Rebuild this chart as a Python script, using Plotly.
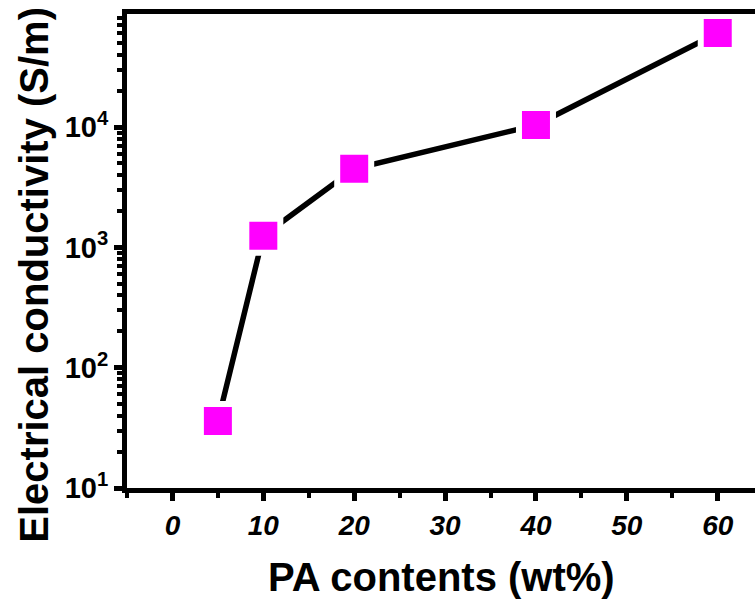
import plotly.graph_objects as go

pa_content = [5, 10, 20, 40, 60]
conductivity = [36, 1250, 4500, 10400, 60500]

x_ticks = [0, 10, 20, 30, 40, 50, 60]
y_tick_vals = [10, 100, 1000, 10000]
y_tick_text = ["10<sup>1</sup>", "10<sup>2</sup>", "10<sup>3</sup>", "10<sup>4</sup>"]

FONT = "Liberation Sans, Arial, sans-serif"

minor_y = [m * 10 ** e for e in range(1, 5) for m in range(2, 10)]

fig = go.Figure()
fig.add_trace(go.Scatter(
    x=pa_content, y=conductivity,
    mode="lines+markers",
    line=dict(color="black", width=5.5),
    marker=dict(symbol="square", size=34, color="#ff00ff",
                line=dict(color="white", width=6)),
    showlegend=False,
))

fig.update_layout(
    width=755, height=599,
    margin=dict(l=127, r=0, t=14, b=111),
    paper_bgcolor="white", plot_bgcolor="white",
    font=dict(family=FONT, color="black"),
    xaxis=dict(
        range=[-5, 64.1],
        tickvals=x_ticks,
        ticktext=[f"<b><i>{v}</i></b>" for v in x_ticks],
        tickfont=dict(size=28, family=FONT),
        ticks="outside", ticklen=8, tickwidth=5, tickcolor="black",
        minor=dict(ticks="outside", ticklen=5, tickwidth=4, tickcolor="black", dtick=5, tick0=-5),
        showline=True, linewidth=5, linecolor="black", mirror=True,
        showgrid=False, zeroline=False,
    ),
    yaxis=dict(
        type="log",
        range=[1, 4.94],
        tickvals=y_tick_vals,
        ticktext=[f"<b>{t}</b>" for t in y_tick_text],
        tickfont=dict(size=29, family=FONT),
        ticks="outside", ticklen=8, tickwidth=5, tickcolor="black",
        minor=dict(ticks="outside", ticklen=5, tickwidth=4, tickcolor="black", tickvals=minor_y),
        showline=True, linewidth=5, linecolor="black", mirror=False,
        showgrid=False, zeroline=False,
    ),
    annotations=[
        dict(text="<b>PA contents (wt%)</b>", xref="paper", yref="paper",
             x=0.5, y=0, yshift=-89, showarrow=False,
             xanchor="center", yanchor="middle",
             font=dict(size=40, family=FONT, color="black")),
        dict(text="<b>Electrical conductivity (S/m)</b>", xref="paper", yref="paper",
             x=0, xshift=-93, y=0.45, showarrow=False, textangle=-90,
             xanchor="center", yanchor="middle",
             font=dict(size=40, family=FONT, color="black")),
    ],
)

fig.write_html("out.html")
